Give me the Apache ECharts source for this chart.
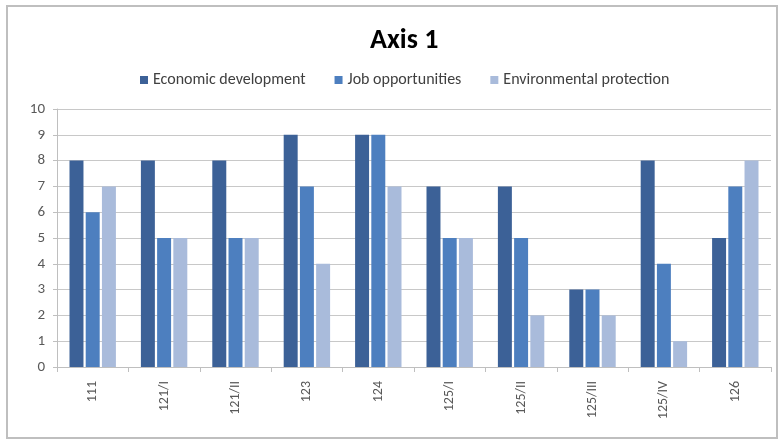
<!DOCTYPE html>
<html>
<head>
<meta charset="utf-8">
<script src="https://cdn.jsdelivr.net/npm/echarts@6/dist/echarts.min.js"></script>
<style>
html,body{margin:0;padding:0;background:#fff;}
#chart{width:780px;height:441px;}
</style>
</head>
<body>
<div id="chart"></div>
<script>
// Measures scored per axis-1 measure code
const categories = ['111', '121/I', '121/II', '123', '124', '125/I', '125/II', '125/III', '125/IV', '126'];
const seriesNames = ['Economic development', 'Job opportunities', 'Environmental protection'];
const economic = [8, 8, 8, 9, 9, 7, 7, 3, 8, 5];
const jobs = [6, 5, 5, 7, 9, 5, 5, 3, 4, 7];
const environment = [7, 5, 5, 4, 7, 5, 2, 2, 1, 8];
const yTicks = [0, 1, 2, 3, 4, 5, 6, 7, 8, 9, 10];

const colors = ['#3c6197', '#4d7fbf', '#a9bbdb'];
const font = 'Calibri, "Liberation Sans", "Open Sans", sans-serif';

const chart = echarts.init(document.getElementById('chart'), null, {renderer: 'canvas'});
chart.setOption({
  animation: false,
  backgroundColor: '#ffffff',
  color: colors,
  graphic: [{
    type: 'rect',
    shape: {x: 7, y: 6, width: 770, height: 432},
    style: {fill: 'none', stroke: '#bfbfbf', lineWidth: 2},
    silent: true
  }],
  title: {
    text: 'Axis 1',
    left: 365,
    top: 22,
    textStyle: {fontFamily: font, fontSize: 28, fontWeight: 'bold', color: '#000'}
  },
  legend: {
    data: seriesNames,
    top: 67,
    left: 135,
    itemWidth: 8,
    itemHeight: 8,
    itemGap: 29,
    icon: 'rect',
    textStyle: {fontFamily: font, fontSize: 16, color: '#404040'}
  },
  grid: {left: 57, right: 9, top: 109, bottom: 74, containLabel: false},
  xAxis: {
    type: 'category',
    data: categories,
    axisLine: {lineStyle: {color: '#bfbfbf'}},
    axisTick: {show: true, alignWithLabel: false, lineStyle: {color: '#bfbfbf'}},
    axisLabel: {rotate: 90, margin: 14, fontFamily: font, fontSize: 14, color: '#595959'},
    splitLine: {show: false}
  },
  yAxis: {
    type: 'value',
    min: yTicks[0],
    max: yTicks[yTicks.length - 1],
    interval: 1,
    axisLine: {show: true, lineStyle: {color: '#bfbfbf'}},
    axisTick: {show: true, length: 4, lineStyle: {color: '#bfbfbf'}},
    axisLabel: {margin: 12, fontFamily: font, fontSize: 15, color: '#595959'},
    splitLine: {lineStyle: {color: '#c8c8c8'}}
  },
  series: [
    {name: seriesNames[0], type: 'bar', data: economic, barGap: '16%', barCategoryGap: '35%'},
    {name: seriesNames[1], type: 'bar', data: jobs, barGap: '16%', barCategoryGap: '35%'},
    {name: seriesNames[2], type: 'bar', data: environment, barGap: '16%', barCategoryGap: '35%'}
  ]
});
</script>
</body>
</html>
